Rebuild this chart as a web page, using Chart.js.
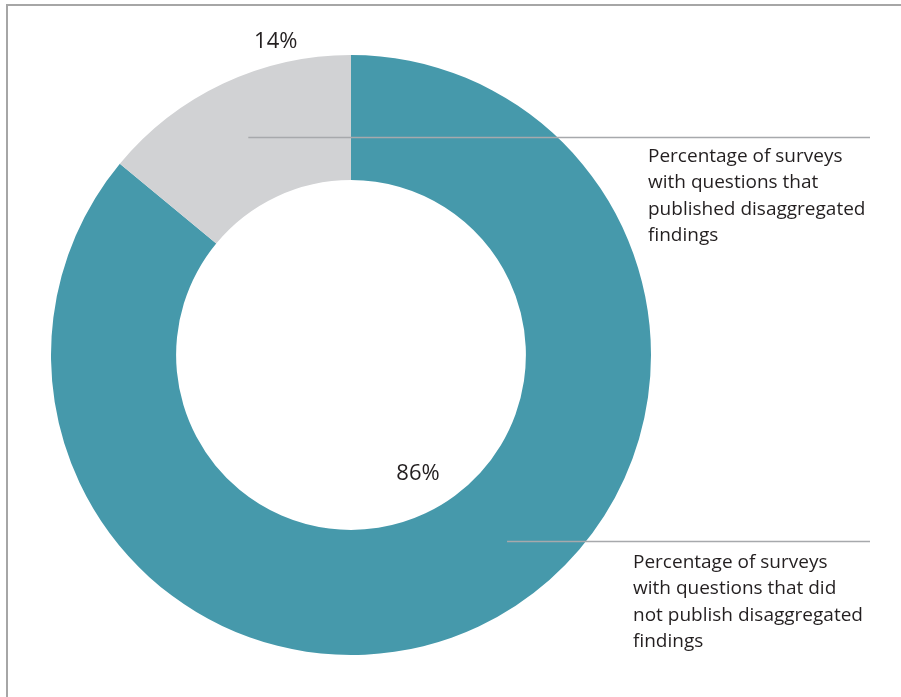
<!DOCTYPE html>
<html>
<head>
<meta charset="utf-8">
<script src="https://cdn.jsdelivr.net/npm/chart.js@4.4.1/dist/chart.umd.min.js"></script>
<style>
  html, body { margin: 0; padding: 0; background: #fff; overflow: hidden; }
  #marco {
    position: absolute; left: 6px; top: 4px; width: 960px; height: 760px;
    border-top: 2px solid #a6a6a6; border-left: 2px solid #a6a6a6;
  }
  #lienzo { position: absolute; left: 0; top: 0; width: 901px; height: 697px; }
</style>
</head>
<body>
<div id="marco"></div>
<div id="lienzo"><canvas id="graficoDona"></canvas></div>
<script>
// datos del grafico
const categorias = [
  'Percentage of surveys with questions that did not publish disaggregated findings',
  'Percentage of surveys with questions that published disaggregated findings'
];
const valores = [86, 14];
const etiquetasValor = ['86%', '14%'];
const lineasTexto = [
  ['Percentage of surveys', 'with questions that did', 'not publish disaggregated', 'findings'],
  ['Percentage of surveys', 'with questions that', 'published disaggregated', 'findings']
];
const colores = ['#4699ab', '#d1d2d4'];

// posicion de los textos sobre cada arco (fraccion del arco y desplazamiento radial)
const posPorcentaje = [
  { along: 0.486, ref: 'inner', off: -39 },
  { along: 0.732, ref: 'outer', off: 22 }
];
const posLlamada = [
  { along: 0.452, ring: 0.54, finX: 870, textoX: 633, textoDy: 26 },
  { along: 0.5, ring: 0.53, finX: 870, textoX: 648, textoDy: 24 }
];

const fuente = '"Open Sans", "Noto Sans", sans-serif';

// plugin para dibujar porcentajes, lineas guia y textos
const llamadas = {
  id: 'llamadas',
  afterDatasetsDraw(chart) {
    const ctx = chart.ctx;
    const arcos = chart.getDatasetMeta(0).data;
    ctx.save();
    arcos.forEach((arco, i) => {
      const { x, y, startAngle, endAngle, innerRadius, outerRadius } = arco.getProps(
        ['x', 'y', 'startAngle', 'endAngle', 'innerRadius', 'outerRadius'], true);

      // porcentaje
      const p = posPorcentaje[i];
      const angP = startAngle + (endAngle - startAngle) * p.along;
      const rP = (p.ref === 'inner' ? innerRadius : outerRadius) + p.off;
      ctx.fillStyle = '#231f20';
      ctx.font = '22px ' + fuente;
      ctx.textAlign = 'center';
      ctx.textBaseline = 'middle';
      ctx.fillText(etiquetasValor[i], x + Math.cos(angP) * rP, y + Math.sin(angP) * rP);

      // linea guia
      const l = posLlamada[i];
      const angL = startAngle + (endAngle - startAngle) * l.along;
      const rL = innerRadius + (outerRadius - innerRadius) * l.ring;
      const ax = x + Math.cos(angL) * rL;
      const ay = Math.round(y + Math.sin(angL) * rL) + 0.5;
      ctx.strokeStyle = '#a7a9ac';
      ctx.lineWidth = 1.5;
      ctx.beginPath();
      ctx.moveTo(ax, ay);
      ctx.lineTo(l.finX, ay);
      ctx.stroke();

      // texto de la categoria
      ctx.font = '19px ' + fuente;
      ctx.textAlign = 'left';
      ctx.textBaseline = 'alphabetic';
      lineasTexto[i].forEach((t, k) => {
        ctx.fillText(t, l.textoX, ay + l.textoDy + k * 26.5);
      });
    });
    ctx.restore();
  }
};

const ctx = document.getElementById('graficoDona').getContext('2d');
new Chart(ctx, {
  type: 'doughnut',
  data: {
    labels: categorias,
    datasets: [{
      data: valores,
      backgroundColor: colores,
      borderWidth: 0
    }]
  },
  options: {
    responsive: true,
    maintainAspectRatio: false,
    animation: false,
    cutout: '58.3%',
    layout: { padding: { left: 51, right: 250, top: 55, bottom: 42 } },
    plugins: {
      legend: { display: false },
      tooltip: { enabled: false }
    }
  },
  plugins: [llamadas]
});
</script>
</body>
</html>
